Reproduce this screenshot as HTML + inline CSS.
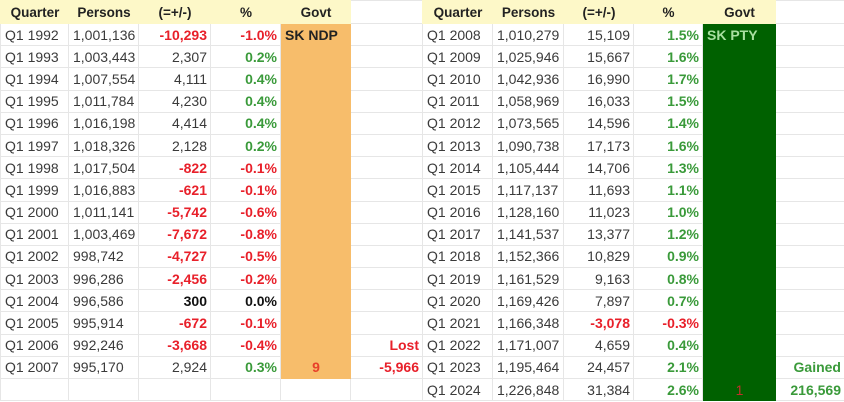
<!DOCTYPE html><html><head><style>
body{margin:0;width:844px;height:402px;overflow:hidden;background:#fff;font-family:"Liberation Sans",sans-serif;font-size:14px;color:#3a3a3a}
table{position:absolute;top:0;border-collapse:collapse;table-layout:fixed}
td{height:22.2px;padding:0 3px 0 4px;border:1px solid #e6e6e6;white-space:nowrap;overflow:hidden;box-sizing:border-box}
tr.h td{height:23px;background:#fdf8c8;font-weight:bold;color:#222;text-align:center;border-color:#fdf8c8;font-size:13.5px}
tr.h td.w{background:#fff;border-color:#e6e6e6}
.r{text-align:right}.b{font-weight:bold}
.red{color:#e8202a;font-weight:bold}.g{color:#3a9a3a;font-weight:bold}
.o{background:#f7bd6b;border-color:#f7bd6b}.dg{background:#006100;border-color:#006100}
</style></head><body>
<table style="left:0;width:422px">
<colgroup><col style="width:68px"><col style="width:70px"><col style="width:72px"><col style="width:70px"><col style="width:70px"><col style="width:72px"></colgroup>
<tr class="h"><td>Quarter</td><td>Persons</td><td>(=+/-)</td><td>%</td><td>Govt</td><td class="w"></td></tr>
<tr><td>Q1 1992</td><td>1,001,136</td><td class="r red">-10,293</td><td class="r red">-1.0%</td><td class="o b" style="color:#222">SK NDP</td><td></td></tr>
<tr><td>Q1 1993</td><td>1,003,443</td><td class="r">2,307</td><td class="r g">0.2%</td><td class="o"></td><td></td></tr>
<tr><td>Q1 1994</td><td>1,007,554</td><td class="r">4,111</td><td class="r g">0.4%</td><td class="o"></td><td></td></tr>
<tr><td>Q1 1995</td><td>1,011,784</td><td class="r">4,230</td><td class="r g">0.4%</td><td class="o"></td><td></td></tr>
<tr><td>Q1 1996</td><td>1,016,198</td><td class="r">4,414</td><td class="r g">0.4%</td><td class="o"></td><td></td></tr>
<tr><td>Q1 1997</td><td>1,018,326</td><td class="r">2,128</td><td class="r g">0.2%</td><td class="o"></td><td></td></tr>
<tr><td>Q1 1998</td><td>1,017,504</td><td class="r red">-822</td><td class="r red">-0.1%</td><td class="o"></td><td></td></tr>
<tr><td>Q1 1999</td><td>1,016,883</td><td class="r red">-621</td><td class="r red">-0.1%</td><td class="o"></td><td></td></tr>
<tr><td>Q1 2000</td><td>1,011,141</td><td class="r red">-5,742</td><td class="r red">-0.6%</td><td class="o"></td><td></td></tr>
<tr><td>Q1 2001</td><td>1,003,469</td><td class="r red">-7,672</td><td class="r red">-0.8%</td><td class="o"></td><td></td></tr>
<tr><td>Q1 2002</td><td>998,742</td><td class="r red">-4,727</td><td class="r red">-0.5%</td><td class="o"></td><td></td></tr>
<tr><td>Q1 2003</td><td>996,286</td><td class="r red">-2,456</td><td class="r red">-0.2%</td><td class="o"></td><td></td></tr>
<tr><td>Q1 2004</td><td>996,586</td><td class="r b" style="color:#111">300</td><td class="r b" style="color:#111">0.0%</td><td class="o"></td><td></td></tr>
<tr><td>Q1 2005</td><td>995,914</td><td class="r red">-672</td><td class="r red">-0.1%</td><td class="o"></td><td></td></tr>
<tr><td>Q1 2006</td><td>992,246</td><td class="r red">-3,668</td><td class="r red">-0.4%</td><td class="o"></td><td class="r red">Lost</td></tr>
<tr><td>Q1 2007</td><td>995,170</td><td class="r">2,924</td><td class="r g">0.3%</td><td class="o red" style="text-align:center;color:#e8402a">9</td><td class="r red">-5,966</td></tr>
<tr><td></td><td></td><td></td><td></td><td></td><td></td></tr>
</table>
<table style="left:422px;width:422px">
<colgroup><col style="width:70px"><col style="width:71px"><col style="width:70px"><col style="width:69px"><col style="width:73px"><col style="width:69px"></colgroup>
<tr class="h"><td>Quarter</td><td>Persons</td><td>(=+/-)</td><td>%</td><td>Govt</td><td class="w"></td></tr>
<tr><td>Q1 2008</td><td>1,010,279</td><td class="r">15,109</td><td class="r g">1.5%</td><td class="dg b" style="color:#a8e0a0">SK PTY</td><td></td></tr>
<tr><td>Q1 2009</td><td>1,025,946</td><td class="r">15,667</td><td class="r g">1.6%</td><td class="dg"></td><td></td></tr>
<tr><td>Q1 2010</td><td>1,042,936</td><td class="r">16,990</td><td class="r g">1.7%</td><td class="dg"></td><td></td></tr>
<tr><td>Q1 2011</td><td>1,058,969</td><td class="r">16,033</td><td class="r g">1.5%</td><td class="dg"></td><td></td></tr>
<tr><td>Q1 2012</td><td>1,073,565</td><td class="r">14,596</td><td class="r g">1.4%</td><td class="dg"></td><td></td></tr>
<tr><td>Q1 2013</td><td>1,090,738</td><td class="r">17,173</td><td class="r g">1.6%</td><td class="dg"></td><td></td></tr>
<tr><td>Q1 2014</td><td>1,105,444</td><td class="r">14,706</td><td class="r g">1.3%</td><td class="dg"></td><td></td></tr>
<tr><td>Q1 2015</td><td>1,117,137</td><td class="r">11,693</td><td class="r g">1.1%</td><td class="dg"></td><td></td></tr>
<tr><td>Q1 2016</td><td>1,128,160</td><td class="r">11,023</td><td class="r g">1.0%</td><td class="dg"></td><td></td></tr>
<tr><td>Q1 2017</td><td>1,141,537</td><td class="r">13,377</td><td class="r g">1.2%</td><td class="dg"></td><td></td></tr>
<tr><td>Q1 2018</td><td>1,152,366</td><td class="r">10,829</td><td class="r g">0.9%</td><td class="dg"></td><td></td></tr>
<tr><td>Q1 2019</td><td>1,161,529</td><td class="r">9,163</td><td class="r g">0.8%</td><td class="dg"></td><td></td></tr>
<tr><td>Q1 2020</td><td>1,169,426</td><td class="r">7,897</td><td class="r g">0.7%</td><td class="dg"></td><td></td></tr>
<tr><td>Q1 2021</td><td>1,166,348</td><td class="r red">-3,078</td><td class="r red">-0.3%</td><td class="dg"></td><td></td></tr>
<tr><td>Q1 2022</td><td>1,171,007</td><td class="r">4,659</td><td class="r g">0.4%</td><td class="dg"></td><td></td></tr>
<tr><td>Q1 2023</td><td>1,195,464</td><td class="r">24,457</td><td class="r g">2.1%</td><td class="dg"></td><td class="r g">Gained</td></tr>
<tr><td>Q1 2024</td><td>1,226,848</td><td class="r">31,384</td><td class="r g">2.6%</td><td class="dg" style="text-align:center;color:#c0302a">1</td><td class="r g">216,569</td></tr>
</table>
</body></html>
